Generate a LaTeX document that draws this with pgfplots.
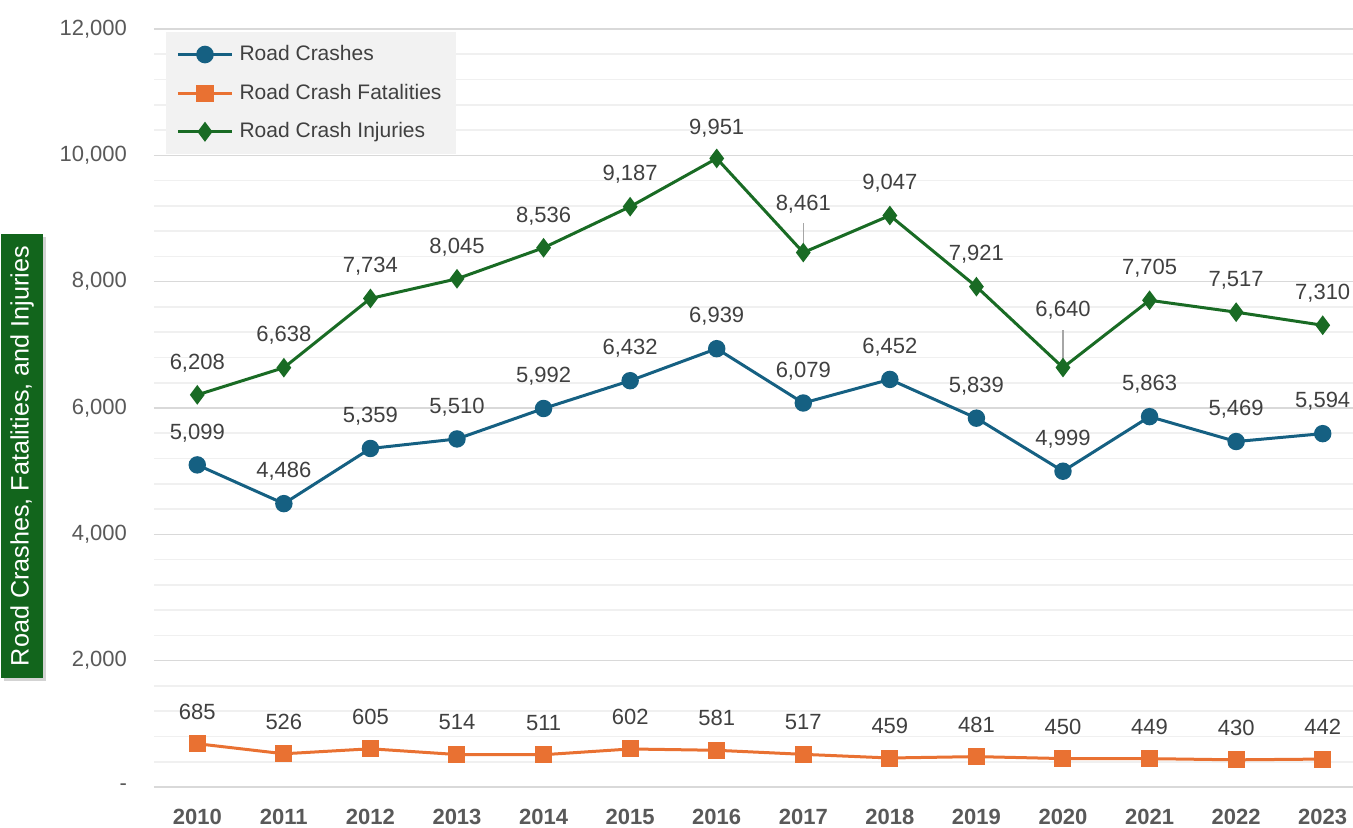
\documentclass[border=0pt]{standalone}
\usepackage{fontspec}
\setmainfont{Liberation Sans}
\usepackage{pgfplots}
\usepackage{pgfplotstable}
\pgfplotsset{compat=1.18}
\usetikzlibrary{shadows}

\definecolor{crashblue}{RGB}{21,96,130}
\definecolor{fatalorange}{RGB}{233,113,50}
\definecolor{injgreen}{RGB}{25,107,36}
\definecolor{boxgreen}{RGB}{18,101,28}
\definecolor{labgray}{RGB}{64,64,64}
\definecolor{tickgray}{RGB}{89,89,89}
\definecolor{majgrid}{RGB}{217,217,217}
\definecolor{mingrid}{RGB}{240,240,240}
\definecolor{legfill}{RGB}{242,242,242}

% x = year index (2010 = 0), off = label lift in pt
\pgfplotstableread{
x y lab off
0 5099 5,099 16
1 4486 4,486 16
2 5359 5,359 16
3 5510 5,510 16
4 5992 5,992 16
5 6432 6,432 16
6 6939 6,939 16
7 6079 6,079 16
8 6452 6,452 16
9 5839 5,839 16
10 4999 4,999 16
11 5863 5,863 16
12 5469 5,469 16
13 5594 5,594 16
}\crashes

\pgfplotstableread{
x y lab off
0 685 685 16
1 526 526 16
2 605 605 16
3 514 514 16
4 511 511 16
5 602 602 16
6 581 581 16
7 517 517 16
8 459 459 16
9 481 481 16
10 450 450 16
11 449 449 16
12 430 430 16
13 442 442 16
}\fatalities

\pgfplotstableread{
x y lab off
0 6208 6,208 16
1 6638 6,638 16
2 7734 7,734 16
3 8045 8,045 16
4 8536 8,536 16
5 9187 9,187 16
6 9951 9,951 15
7 8461 8,461 24
8 9047 9,047 16
9 7921 7,921 16
10 6640 6,640 28.5
11 7705 7,705 16
12 7517 7,517 16
13 7310 7,310 16
}\injuries

\begin{document}
\begin{tikzpicture}
\begin{axis}[
    scale only axis,
    width=599.5pt, height=379pt,
    xmin=-0.5, xmax=13.35,
    ymin=0, ymax=12000,
    scaled y ticks=false,
    xtick={0,...,13},
    xticklabels={2010,2011,2012,2013,2014,2015,2016,2017,2018,2019,2020,2021,2022,2023},
    xticklabel style={font=\fontsize{11}{13}\selectfont\bfseries, text=tickgray,
        anchor=base, inner sep=0pt, yshift=-19pt},
    ytick={0,2000,4000,6000,8000,10000,12000},
    yticklabels={-,{2,000},{4,000},{6,000},{8,000},{10,000},{12,000}},
    yticklabel style={font=\fontsize{11}{13}\selectfont, text=tickgray, xshift=-10pt},
    minor y tick num=4,
    ymajorgrids=true, yminorgrids=true,
    major grid style={draw=majgrid, line width=0.8pt},
    minor grid style={draw=mingrid, line width=0.8pt},
    axis line style={draw=none},
    tick style={draw=none},
    clip=false,
    ylabel={Road Crashes, Fatalities, and Injuries},
    ylabel style={
        at={(rel axis cs:-0.110,0.4367)}, anchor=center,
        fill=boxgreen, text=white, font=\fontsize{12.6}{14}\selectfont,
        minimum width=222pt, minimum height=21pt, inner sep=0pt,
        drop shadow={opacity=0.35, shadow xshift=1.5pt, shadow yshift=-1.5pt},
    },
    legend style={
        at={(rel axis cs:0.01,0.996)}, anchor=north west,
        fill=legfill, draw=none,
        font=\fontsize{10.5}{12}\selectfont, text=labgray,
        inner xsep=5pt, inner ysep=4.5pt, row sep=6.2pt,
        /tikz/every odd column/.append style={column sep=1pt},
    },
    legend cell align={left},
    legend image code/.code={
        \draw[mark repeat=2, mark phase=2, line width=1.6pt]
            plot coordinates {(0pt,0pt) (13.5pt,0pt) (27pt,0pt)};
    },
]

\addplot[color=crashblue, line width=1.5pt, mark=*, mark size=3.6pt,
    mark options={solid, fill=crashblue},
    point meta=explicit symbolic, nodes near coords,
    visualization depends on={\thisrow{off}\as\myoff},
    every node near coord/.append style={anchor=center, yshift=\myoff pt, inner sep=1pt,
        font=\fontsize{11}{13}\selectfont, text=labgray}]
    table[x=x, y=y, meta=lab] {\crashes};
\addlegendentry{Road Crashes}

\addplot[color=fatalorange, line width=1.5pt, mark=square*, mark size=3.5pt,
    mark options={solid, fill=fatalorange},
    point meta=explicit symbolic, nodes near coords,
    visualization depends on={\thisrow{off}\as\myoff},
    every node near coord/.append style={anchor=center, yshift=\myoff pt, inner sep=1pt,
        font=\fontsize{11}{13}\selectfont, text=labgray}]
    table[x=x, y=y, meta=lab] {\fatalities};
\addlegendentry{Road Crash Fatalities}

\addplot[color=injgreen, line width=1.5pt, mark=diamond*, mark size=3.7pt,
    mark options={solid, fill=injgreen},
    point meta=explicit symbolic, nodes near coords,
    visualization depends on={\thisrow{off}\as\myoff},
    every node near coord/.append style={anchor=center, yshift=\myoff pt, inner sep=1pt,
        font=\fontsize{11}{13}\selectfont, text=labgray}]
    table[x=x, y=y, meta=lab] {\injuries};
\addlegendentry{Road Crash Injuries}

% leader lines for the lifted labels
\draw[gray!70, line width=0.6pt] ([yshift=1pt]axis cs:7,8461) -- ([yshift=15pt]axis cs:7,8461);
\draw[gray!70, line width=0.6pt] ([yshift=1pt]axis cs:10,6640) -- ([yshift=19pt]axis cs:10,6640);

\coordinate (O) at (rel axis cs:0,0);
\end{axis}
\pgfresetboundingbox
\path (O) ++(-77pt,-20.5pt) rectangle ++(676.5pt,414pt);
\end{tikzpicture}
\end{document}
